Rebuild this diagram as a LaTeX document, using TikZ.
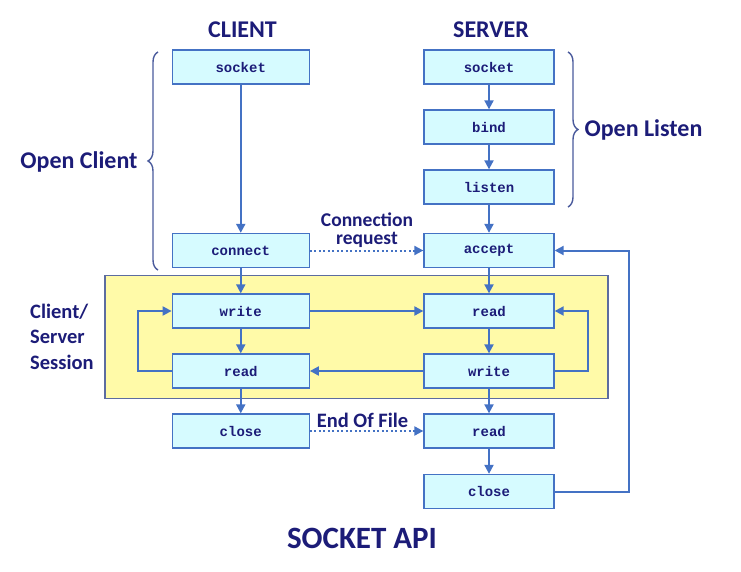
\documentclass[tikz,border=0pt]{standalone}
\usepackage{fontspec}
\setmainfont{Carlito}
\newfontfamily\boxfont{Liberation Mono}
\usetikzlibrary{arrows.meta,decorations.pathreplacing}
\definecolor{navy}{HTML}{1C1C78}
\definecolor{lineblue}{HTML}{4472C4}
\definecolor{boxfill}{HTML}{D6FBFF}
\definecolor{sessfill}{HTML}{FFFAA8}
\definecolor{sessdraw}{HTML}{5C6CA0}
\definecolor{bracecol}{HTML}{4A5A9C}
\tikzset{
  cbox/.style={draw=lineblue, line width=1.3pt, fill=boxfill, minimum width=137pt, minimum height=34pt, inner sep=0pt, font=\boxfont\bfseries\fontsize{14}{14}\selectfont, text=navy},
  sbox/.style={cbox, minimum width=130pt},
  flow/.style={draw=lineblue, line width=2pt, -{Triangle[length=9pt,width=9pt]}},
  dotflow/.style={draw=lineblue, line width=2pt, dash pattern=on 2pt off 2.5pt, -{Triangle[length=9pt,width=9pt]}},
  lbl/.style={text=navy, font=\bfseries\fontsize{24}{24}\selectfont, inner sep=0pt},
  mlbl/.style={lbl, font=\bfseries\fontsize{20.5}{20.5}\selectfont},
  brc/.style={draw=bracecol, line width=1.4pt, decorate, decoration={brace, amplitude=10pt}}
}
\begin{document}
\begin{tikzpicture}[x=1pt,y=-1pt]
\useasboundingbox (0,0) rectangle (741,572);
% session background
\node[draw=sessdraw, line width=1.3pt, fill=sessfill, minimum width=503pt, minimum height=122.5pt, inner sep=0pt] (sess) at (356.5,337) {};
% titles
\node[lbl, anchor=base] (tc) at (242.5,38) {CLIENT};
\node[lbl, anchor=base] (ts) at (491,38) {SERVER};
\node[lbl, anchor=base, font=\bfseries\fontsize{31}{31}\selectfont] (api) at (362,548) {SOCKET API};
% client boxes
\node[cbox] (csock) at (240.75,67) {socket};
\node[cbox] (cconn) at (240.75,250.5) {connect};
\node[cbox] (cwrite) at (240.75,311) {write};
\node[cbox] (cread) at (240.75,371) {read};
\node[cbox] (cclose) at (240.75,431) {close};
% server boxes
\node[sbox] (ssock) at (489,67) {socket};
\node[sbox] (sbind) at (489,127) {bind};
\node[sbox] (slisten) at (489,187) {listen};
\node[sbox] (saccept) at (489,250.5) {accept};
\node[sbox] (sread) at (489,311) {read};
\node[sbox] (swrite) at (489,371) {write};
\node[sbox] (sread2) at (489,431) {read};
\node[sbox] (sclose) at (489,491.5) {close};
% vertical flows
\draw[flow] (csock) -- (cconn);
\draw[flow] (cconn) -- (cwrite);
\draw[flow] (cwrite) -- (cread);
\draw[flow] (cread) -- (cclose);
\draw[flow] (ssock) -- (sbind);
\draw[flow] (sbind) -- (slisten);
\draw[flow] (slisten) -- (saccept);
\draw[flow] (saccept) -- (sread);
\draw[flow] (sread) -- (swrite);
\draw[flow] (swrite) -- (sread2);
\draw[flow] (sread2) -- (sclose);
% horizontal flows
\draw[flow] (cwrite) -- (sread);
\draw[flow] (swrite) -- (cread);
\coordinate (cl1) at (138,371);
\coordinate (cl2) at (138,311);
\draw[flow] (cread.west) -- (cl1) -- (cl2) -- (cwrite.west);
\coordinate (sl1) at (588,371);
\coordinate (sl2) at (588,311);
\draw[flow] (swrite.east) -- (sl1) -- (sl2) -- (sread.east);
\coordinate (al1) at (629,491.5);
\coordinate (al2) at (629,250.5);
\draw[flow] (sclose.east) -- (al1) -- (al2) -- (saccept.east);
% dotted
\draw[dotflow] (cconn) -- (saccept);
\draw[dotflow] (cclose) -- (sread2);
% labels
\node[mlbl, anchor=base, font=\bfseries\fontsize{19.5}{19.5}\selectfont] (creq1) at (367,226) {Connection};
\node[mlbl, anchor=base, font=\bfseries\fontsize{19.5}{19.5}\selectfont] (creq2) at (367,244) {request};
\node[mlbl, anchor=base] (eof) at (362.5,427) {End Of File};
\node[mlbl, anchor=base west, align=left, font=\bfseries\fontsize{20.5}{25.5}\selectfont] (ses) at (30,369) {Client/\\Server\\Session};
\node[lbl, anchor=base] (oc) at (79,168) {Open Client};
\node[lbl, anchor=base] (ol) at (643.5,137) {Open Listen};
% braces
\coordinate (b1a) at (158,270);
\coordinate (b1b) at (158,52);
\draw[brc] (b1a) -- (b1b);
\coordinate (b2a) at (568,52);
\coordinate (b2b) at (568,207);
\draw[brc] (b2a) -- (b2b);
\end{tikzpicture}
\end{document}
